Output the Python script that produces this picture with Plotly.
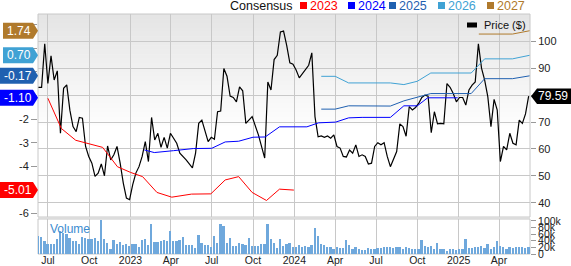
import plotly.graph_objects as go
import pandas as pd

# ---------------- data ----------------
START = "2022-06-10"  # first weekly close

price_weeks = [0, 1, 2, 3, 4, 5, 6, 7, 8, 9, 10, 11, 12, 13, 14, 15, 16, 17, 18, 19, 20,
               21, 22, 23, 24, 25, 26, 27, 28, 29, 30, 31, 32, 33, 34, 35, 36, 37, 38, 39,
               40, 41, 42, 43, 44, 45, 47, 49, 50, 51, 52, 54, 55, 56, 57, 58, 59, 60, 61,
               62, 63, 64, 65, 66, 67, 68, 70, 71, 72, 73, 74, 75, 76, 77, 78, 79, 80, 81,
               82, 83, 84, 86, 87, 88, 89, 90, 91, 92, 93, 94, 95, 96, 97, 98, 99, 100,
               101, 102, 103, 104, 105, 106, 107, 108, 109, 110, 111, 112, 114, 115, 116,
               117, 118, 119, 120, 121, 122, 123, 124, 125, 126, 127, 128, 129, 130, 131,
               132, 133, 134, 135, 136, 137, 138, 139, 140, 141, 142, 143, 144, 145, 146,
               147, 148, 149, 150, 151, 152, 153, 154, 155, 156]
price_values = [82.9, 82.9, 99.1, 84.3, 94.6, 85.6, 89.0, 65.8, 82.5, 83.8, 74.4, 68.3, 66.4,
                71.7, 71.4, 60.9, 57.2, 54.7, 49.8, 51.0, 54.4, 50.0, 61.1, 55.9, 57.8, 60.9,
                54.7, 47.3, 41.7, 41.1, 46.7, 51.0, 53.4, 57.2, 62.7, 55.3, 71.7, 63.3, 65.8,
                60.6, 64.3, 60.3, 65.8, 64.0, 62.1, 58.4, 55.9, 52.9, 58.4, 69.5, 70.7, 62.7,
                64.3, 63.6, 73.8, 74.1, 89.9, 87.0, 79.6, 79.1, 77.5, 83.1, 81.6, 69.5, 70.7,
                72.0, 65.2, 60.6, 56.6, 84.9, 81.9, 93.2, 94.8, 103.5, 103.8, 98.5, 92.0,
                91.5, 89.3, 86.4, 88.0, 91.1, 95.7, 72.0, 64.5, 64.8, 64.3, 64.8, 64.0, 65.2,
                60.9, 60.3, 57.2, 57.0, 59.6, 58.4, 61.5, 57.2, 57.8, 57.2, 54.4, 54.7, 60.9,
                62.3, 61.5, 62.3, 57.2, 53.4, 59.0, 69.3, 68.3, 64.7, 75.7, 74.5, 75.4, 76.9,
                79.1, 80.0, 79.6, 66.0, 73.8, 69.3, 69.5, 69.3, 84.3, 82.9, 80.6, 77.5, 79.1,
                79.1, 76.3, 81.9, 83.7, 84.9, 99.1, 90.0, 85.6, 79.4, 68.3, 78.4, 74.4, 55.3,
                60.9, 59.6, 65.8, 62.1, 61.5, 70.7, 69.5, 73.0, 79.59]

volume_k = [56, 51, 38, 31, 30, 30, 46, 70, 65, 61, 49, 38, 38, 30, 51, 47, 44, 46, 47, 38,
            103, 44, 33, 16, 41, 30, 36, 26, 31, 23, 31, 31, 21, 41, 46, 28, 91, 36, 36, 38,
            41, 38, 70, 38, 38, 41, 51, 28, 26, 26, 18, 59, 33, 26, 26, 21, 54, 33, 91, 85,
            33, 49, 23, 23, 33, 30, 28, 49, 23, 25, 25, 30, 30, 90, 44, 33, 18,
            45, 23, 31, 33, 21, 21, 28, 21, 25, 21, 28, 78, 54, 30, 28, 21, 21, 15, 21, 18,
            18, 41, 28, 15, 21, 16, 13, 13, 18, 15, 16, 18, 18, 20, 22, 22, 18, 20, 20, 16,
            20, 18, 14, 14, 16, 41, 23, 20, 23, 15, 33, 15, 15, 9, 15, 15, 13, 15, 15, 44,
            18, 18, 22, 22, 25, 18, 30, 15, 20, 38, 23, 20, 16, 20, 18, 20, 21, 20, 18, 20]

eps23_dates = ["2022-07-01", "2022-07-31", "2022-09-01", "2022-10-01", "2022-10-31",
               "2022-12-03", "2023-01-01", "2023-01-28", "2023-03-01", "2023-04-03",
               "2023-05-17", "2023-06-29", "2023-07-31", "2023-08-30", "2023-09-29",
               "2023-10-31", "2023-11-29", "2023-12-31"]
eps23_values = [-1.12, -2.40, -2.90, -3.04, -3.20, -4.02, -4.26, -4.44, -5.11, -5.31,
                -5.18, -5.17, -4.58, -4.44, -5.11, -5.45, -4.97, -5.01]

eps24_dates = ["2023-02-01", "2023-02-23", "2023-04-07", "2023-05-21", "2023-07-01",
               "2023-07-31", "2023-08-30", "2023-10-01", "2023-10-28", "2023-11-29",
               "2024-01-29", "2024-02-24", "2024-04-02", "2024-05-01", "2024-05-31",
               "2024-08-02", "2024-09-01", "2024-10-01", "2024-10-24", "2024-12-30"]
eps24_values = [-3.31, -3.42, -3.34, -3.25, -3.24, -2.97, -2.94, -2.77, -2.76, -2.33,
                -2.33, -2.16, -2.13, -1.95, -1.93, -1.93, -1.44, -1.44, -1.10, -1.10]

eps25_dates = ["2024-03-01", "2024-04-01", "2024-05-01", "2024-08-02", "2024-09-01",
               "2024-10-01", "2024-10-31", "2025-01-29", "2025-02-28", "2025-05-01",
               "2025-06-08"]
eps25_values = [-1.58, -1.58, -1.44, -1.45, -1.23, -1.09, -0.92, -0.92, -0.29, -0.29, -0.17]

eps26_dates = ["2024-03-01", "2024-04-01", "2024-05-01", "2024-08-02", "2024-09-01",
               "2024-10-01", "2024-10-31", "2025-01-29", "2025-02-28", "2025-05-01",
               "2025-06-08"]
eps26_values = [-0.19, -0.19, -0.47, -0.47, -0.54, -0.40, -0.05, -0.05, 0.55, 0.55, 0.70]

eps27_dates = ["2025-02-15", "2025-05-01", "2025-06-08"]
eps27_values = [1.60, 1.60, 1.74]

tick_dates = ["2022-07-01", "2022-10-01", "2023-01-01", "2023-04-01", "2023-07-01",
              "2023-10-01", "2024-01-01", "2024-04-01", "2024-07-01", "2024-10-01",
              "2025-01-01", "2025-04-01"]
tick_text = ["Jul", "Oct", "2023", "Apr", "Jul", "Oct", "2024", "Apr", "Jul", "Oct",
             "2025", "Apr"]

price_ticks = [40, 50, 60, 70, 80, 90, 100]
price_tick_text = ["40", "50", "60", "70", "", "90", "100"]   # 80 sits under the price badge
eps_ticks = [-6, -5, -4, -3, -2, -1, 0, 1, 2]
eps_tick_text = ["-6", "", "-4", "-3", "-2", "", "", "", ""]  # others sit under the badges
vol_ticks = [0, 20000, 40000, 60000, 80000, 100000]
vol_tick_text = ["0", "20k", "40k", "60k", "80k", "100k"]

series = [("2023", eps23_dates, eps23_values, "#ff0000"),
          ("2024", eps24_dates, eps24_values, "#0000ff"),
          ("2025", eps25_dates, eps25_values, "#1f60b0"),
          ("2026", eps26_dates, eps26_values, "#40a2d4"),
          ("2027", eps27_dates, eps27_values, "#b07a2c")]

# ---------------- layout helpers ----------------
W, H = 571, 266
L, R, T, B = 38, 41, 14, 12
PW, PH = W - L - R, H - T - B
FONT = "Arial, Liberation Sans, Helvetica, sans-serif"
GRID = "#c8c8c8"


def px_x(p):
    return (p - L) / PW


def px_y(p):
    return (H - B - p) / PH


MAIN_BOTTOM = 217
VOL_TOP = 219

start = pd.Timestamp(START)
price_dates = [start + pd.Timedelta(days=7 * w) for w in price_weeks]
vol_dates = [start + pd.Timedelta(days=7 * i) for i in range(len(volume_k))]
vol_values = [v * 1000 for v in volume_k]

fig = go.Figure()

fig.add_trace(go.Bar(x=vol_dates, y=vol_values, yaxis="y3", xaxis="x",
                     marker=dict(color="#6fa8dc", line=dict(width=0)),
                     width=4 * 86400000, showlegend=False, hoverinfo="skip"))

fig.add_trace(go.Scatter(x=price_dates, y=price_values, yaxis="y", mode="lines",
                         line=dict(color="#000000", width=1.2), showlegend=False))

for name, d, v, c in series:
    fig.add_trace(go.Scatter(x=d, y=v, yaxis="y2", mode="lines",
                             line=dict(color=c, width=1), showlegend=False))

shapes = []
# gradient background for the main panel
n = 26
top_px, fade_px = T, 130
for i in range(n):
    a = top_px + (fade_px - top_px) * i / n
    b = top_px + (fade_px - top_px) * (i + 1) / n
    g = int(229 + (255 - 229) * i / (n - 1))
    shapes.append(dict(type="rect", xref="paper", yref="paper", x0=0, x1=1,
                       y0=px_y(b + 0.5), y1=px_y(a), fillcolor=f"rgb({g},{g},{g})",
                       line=dict(width=0), layer="below"))
# separator band between price and volume panels
shapes.append(dict(type="rect", xref="paper", yref="paper", x0=0, x1=1,
                   y0=px_y(VOL_TOP), y1=px_y(MAIN_BOTTOM), fillcolor="#dcdcdc",
                   line=dict(width=0), layer="above"))
# frames
shapes.append(dict(type="rect", xref="paper", yref="paper", x0=0, x1=1,
                   y0=px_y(MAIN_BOTTOM), y1=1, line=dict(color=GRID, width=1),
                   fillcolor="rgba(0,0,0,0)", layer="below"))
shapes.append(dict(type="rect", xref="paper", yref="paper", x0=0, x1=1,
                   y0=0, y1=px_y(VOL_TOP), line=dict(color=GRID, width=1),
                   fillcolor="rgba(0,0,0,0)", layer="below"))

annotations = []
# header legend
annotations.append(dict(text="Consensus", x=px_x(228), y=px_y(6), xref="paper", yref="paper",
                        xanchor="left", yanchor="middle", showarrow=False,
                        font=dict(family=FONT, size=12.5, color="#111")))
leg_x = {"2023": 300, "2024": 348, "2025": 389, "2026": 438, "2027": 487}
for name, d, v, c in series:
    x0 = leg_x[name]
    shapes.append(dict(type="rect", xref="paper", yref="paper", x0=px_x(x0), x1=px_x(x0 + 7),
                       y0=px_y(9), y1=px_y(2), fillcolor=c, line=dict(width=0)))
    annotations.append(dict(text=name, x=px_x(x0 + 8), y=px_y(6), xref="paper", yref="paper",
                            xanchor="left", yanchor="middle", showarrow=False,
                            font=dict(family=FONT, size=12.5, color=c)))

# left value badges
for name, d, v, c in series:
    val = v[-1]
    h = 0.34
    left = 3 if name == "2027" or name == "2026" else 0
    shapes.append(dict(type="path", xref="paper", yref="y2",
                       path=(f"M {px_x(left)},{val + h} L {px_x(33)},{val + h} "
                             f"L {px_x(38)},{val} L {px_x(33)},{val - h} "
                             f"L {px_x(left)},{val - h} Z"),
                       fillcolor=c, line=dict(width=0), layer="above"))
    annotations.append(dict(text=f"{val:.2f}", x=px_x((left + 33) / 2 + 1), y=val,
                            xref="paper", yref="y2", xanchor="center", yanchor="middle",
                            showarrow=False, font=dict(family=FONT, size=12, color="white")))

# right last-price badge
last = price_values[-1]
hp = 2.9
shapes.append(dict(type="path", xref="paper", yref="y",
                   path=(f"M {px_x(531)},{last} L {px_x(537)},{last + hp} "
                         f"L {px_x(571)},{last + hp} L {px_x(571)},{last - hp} "
                         f"L {px_x(537)},{last - hp} Z"),
                   fillcolor="#000000", line=dict(width=0), layer="above"))
annotations.append(dict(text=f"{last:.2f}", x=px_x(553), y=last, xref="paper", yref="y",
                        xanchor="center", yanchor="middle", showarrow=False,
                        font=dict(family=FONT, size=12, color="white")))

# price legend inside plot
shapes.append(dict(type="rect", xref="paper", yref="paper", x0=px_x(467), x1=px_x(477),
                   y0=px_y(27.5), y1=px_y(22.5), fillcolor="#000", line=dict(width=0),
                   layer="above"))
annotations.append(dict(text="Price ($)", x=px_x(482), y=px_y(25), xref="paper", yref="paper",
                        xanchor="left", yanchor="middle", showarrow=False,
                        font=dict(family=FONT, size=11, color="#111")))
# volume label
annotations.append(dict(text="Volume", x=px_x(48), y=px_y(229), xref="paper", yref="paper",
                        xanchor="left", yanchor="middle", showarrow=False,
                        font=dict(family=FONT, size=12, color="#3b8bd0")))

tickfont = dict(family=FONT, size=11, color="#222")

fig.update_layout(
    width=W, height=H,
    margin=dict(l=L, r=R, t=T, b=B, pad=0, autoexpand=False),
    paper_bgcolor="white", plot_bgcolor="rgba(0,0,0,0)",
    showlegend=False, bargap=0,
    shapes=shapes, annotations=annotations,
    xaxis=dict(type="date", range=["2022-06-09", "2025-06-09"], anchor="y3",
               tickvals=tick_dates, ticktext=tick_text, showgrid=True, gridcolor=GRID,
               gridwidth=1, ticks="", showline=False, zeroline=False,
               tickfont=dict(family=FONT, size=10.5, color="#222"),
               ticklabelstandoff=-2, automargin=False),
    yaxis=dict(domain=[px_y(MAIN_BOTTOM), 1], side="right", range=[34.68, 110.15],
               tickvals=price_ticks, ticktext=price_tick_text, showgrid=True,
               gridcolor=GRID, gridwidth=1, ticks="outside", ticklen=5, tickcolor="#999",
               zeroline=False, showline=False, tickfont=tickfont, anchor="x",
               automargin=False),
    yaxis2=dict(overlaying="y", side="left", range=[-6.15, 2.45], tickvals=eps_ticks,
                ticktext=eps_tick_text, showgrid=False, ticks="outside", ticklen=6,
                tickcolor="#999", zeroline=False, showline=False, tickfont=tickfont,
                anchor="x", automargin=False),
    yaxis3=dict(domain=[0, px_y(VOL_TOP)], side="right", range=[0, 106000],
                tickvals=vol_ticks, ticktext=vol_tick_text, showgrid=False,
                ticks="outside", ticklen=5, tickcolor="#999", zeroline=False,
                showline=False, tickfont=dict(family=FONT, size=10.5, color="#222"),
                anchor="x", automargin=False),
)

fig.write_html("out.html")
